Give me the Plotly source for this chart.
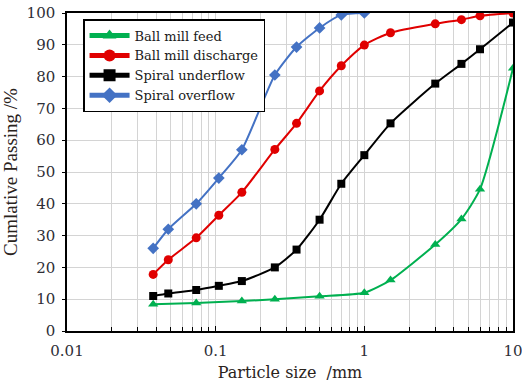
import plotly.graph_objects as go

# Data
feed_x = [0.038, 0.074, 0.15, 0.25, 0.5, 1, 1.5, 3, 4.5, 6, 10]
feed_y = [8.4, 8.8, 9.4, 10.0, 10.9, 12.0, 16.0, 27.2, 35.2, 44.6, 82.6]

discharge_x = [0.038, 0.048, 0.074, 0.105, 0.15, 0.25, 0.35, 0.5, 0.7, 1, 1.5, 3, 4.5, 6, 10]
discharge_y = [17.8, 22.4, 29.3, 36.4, 43.6, 57.1, 65.3, 75.5, 83.4, 89.9, 93.8, 96.6, 97.9, 99.1, 100]

underflow_x = [0.038, 0.048, 0.074, 0.105, 0.15, 0.25, 0.35, 0.5, 0.7, 1, 1.5, 3, 4.5, 6, 10]
underflow_y = [11.0, 11.8, 12.9, 14.2, 15.7, 20.0, 25.6, 35.0, 46.3, 55.3, 65.3, 77.8, 84.0, 88.6, 97.0]

overflow_x = [0.038, 0.048, 0.074, 0.105, 0.15, 0.25, 0.35, 0.5, 0.7, 1]
overflow_y = [26.0, 32.0, 40.0, 48.1, 57.0, 80.5, 89.3, 95.3, 99.4, 100]

x_tickvals = [0.01, 0.1, 1, 10]
x_ticktext = ["0.01", "0.1", "1", "10"]
y_tickvals = [0, 10, 20, 30, 40, 50, 60, 70, 80, 90, 100]

minor_vals = [m * d for d in (0.01, 0.1, 1) for m in range(2, 10)]

SERIF = "Liberation Serif"
WIDE = "DejaVu Serif"
TXT = "#2e2e36"
TITLE = "#2a231c"

fig = go.Figure()

series = [
    ("Ball mill feed", feed_x, feed_y, "#00b050", "triangle-up", 9),
    ("Ball mill discharge", discharge_x, discharge_y, "#e00000", "circle", 9),
    ("Spiral underflow", underflow_x, underflow_y, "#000000", "square", 8),
    ("Spiral overflow", overflow_x, overflow_y, "#4472c4", "diamond", 9),
]
for name, xs, ys, col, sym, sz in series:
    fig.add_trace(go.Scatter(
        x=xs, y=ys, name=name, mode="lines+markers",
        line=dict(color=col, width=2, shape="spline", smoothing=0.6),
        marker=dict(color=col, symbol=sym, size=sz),
    ))

fig.update_layout(
    width=522, height=385,
    margin=dict(l=67, r=9, t=13, b=54),
    paper_bgcolor="white", plot_bgcolor="white",
    font=dict(family=SERIF, size=15, color=TXT),
    showlegend=True,
    legend=dict(
        x=0.036, y=0.981, xanchor="left", yanchor="top",
        bgcolor="white", bordercolor="black", borderwidth=1.5,
        font=dict(family=WIDE, size=13, color="#1a1a1a"),
        tracegroupgap=0, itemsizing="constant", itemwidth=40,
    ),
)

fig.update_xaxes(
    type="log", range=[-2, 1], automargin=False,
    tickvals=x_tickvals, ticktext=x_ticktext,
    ticklabeloverflow="allow", ticklabelstandoff=5,
    showgrid=True, gridcolor="#d4d4d4", gridwidth=1,
    showline=True, linecolor="black", linewidth=1.5, mirror=True,
    ticks="inside", ticklen=5, tickcolor="black",
    minor=dict(tickvals=minor_vals, showgrid=True, gridcolor="#d4d4d4",
               ticks="inside", ticklen=4, tickcolor="black"),
    tickfont=dict(family=WIDE, size=15, color=TXT),
    title=dict(text="Particle size  /mm", font=dict(family=WIDE, size=16, color=TITLE), standoff=8),
    zeroline=False,
)
fig.update_yaxes(
    range=[0, 100], tickvals=y_tickvals, automargin=False,
    ticklabelstandoff=4,
    showgrid=True, gridcolor="#d4d4d4", gridwidth=1,
    showline=True, linecolor="black", linewidth=1.5, mirror=True,
    ticks="outside", ticklen=3, tickcolor="black",
    tickfont=dict(family=WIDE, size=15, color=TXT),
    title=dict(text="Cumlative Passing /%", font=dict(family=SERIF, size=19, color=TITLE), standoff=6),
    zeroline=False,
)

fig.write_html("out.html")
